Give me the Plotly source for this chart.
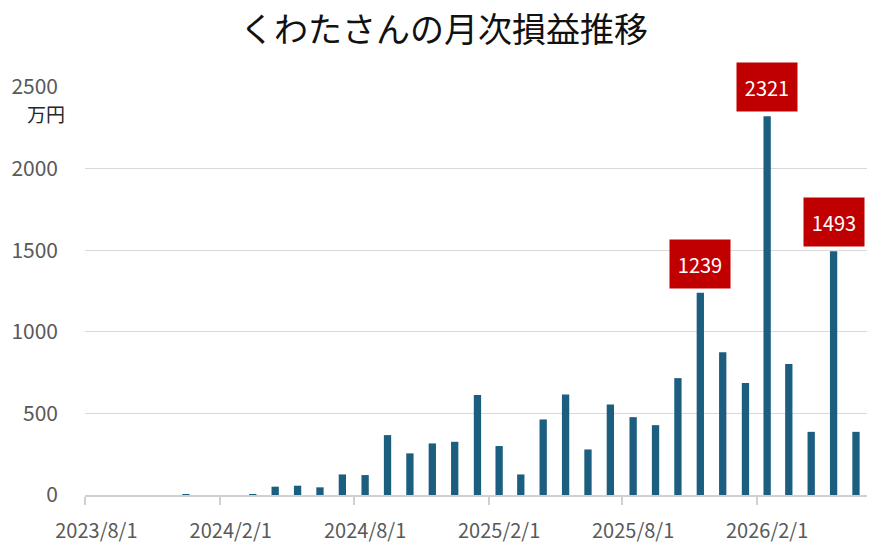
import pandas as pd
import plotly.graph_objects as go

months = pd.date_range("2023-08-01", "2026-06-01", freq="MS")
values = [0, 0, 0, 0, 5, 0, 0, 5, 51, 57, 47, 126, 122, 367, 255, 316, 326,
          612, 300, 126, 463, 616, 279, 555, 477, 428, 716, 1239, 875, 687,
          2321, 803, 387, 1493, 387]
highlight_threshold = 1000
title_text = "くわたさんの月次損益推移"
unit_text = "万円"
y_ticks = [0, 500, 1000, 1500, 2000, 2500]

bar_color = "#1B5E7F"
label_bg = "#C00000"
font_family = "Noto Sans CJK JP"

mid = [m + (m + pd.offsets.MonthBegin(1) - m) / 2 for m in months]
label_months = months[::6]
label_pos = [m + (m + pd.offsets.MonthBegin(1) - m) / 2 for m in label_months]
label_text = [f"{m.year}/{m.month}/{m.day}" for m in label_months]

fig = go.Figure()
fig.add_trace(go.Bar(
    x=months, y=values,
    xperiod="M1", xperiodalignment="middle",
    width=8.6e8,
    marker=dict(color=bar_color, line=dict(width=0)),
    hoverinfo="x+y",
))

for m, v in zip(mid, values):
    if v >= highlight_threshold:
        fig.add_annotation(
            x=m, y=v, xref="x", yref="y",
            text=str(v), showarrow=False,
            yanchor="bottom", yshift=4,
            width=58, height=46,
            bgcolor=label_bg,
            font=dict(family=font_family, size=20, color="white"),
        )

fig.add_annotation(
    x=-0.0234, y=0.936, xref="paper", yref="paper",
    text=unit_text, showarrow=False, xanchor="right", yanchor="middle",
    font=dict(family=font_family, size=19, color="#262626"),
)

fig.update_layout(
    width=886, height=553,
    margin=dict(l=77, r=27, t=79, b=66),
    paper_bgcolor="white", plot_bgcolor="white",
    showlegend=False,
    title=dict(text=title_text, x=0.492, xanchor="center", y=0.960, yanchor="middle",
               xref="container", yref="container",
               font=dict(family=font_family, size=34, color="#111111")),
    font=dict(family=font_family),
)

fig.update_xaxes(
    type="date", automargin=False,
    range=[months[0], months[-1] + pd.offsets.MonthBegin(1)],
    tickmode="array", tickvals=label_pos, ticktext=label_text,
    ticks="", showgrid=False,
    showline=True, linecolor="#d0d0d0", linewidth=1.5,
    tickfont=dict(family=font_family, size=20, color="#595959"),
    ticklabelstandoff=17,
    minor=dict(tickmode="array", tickvals=list(label_months), ticks="outside",
               ticklen=8, tickcolor="#d0d0d0", tickwidth=1.5, showgrid=False),
)
fig.update_yaxes(
    range=[0, 2500], automargin=False,
    tickmode="array", tickvals=y_ticks,
    showgrid=True, gridcolor="#d9d9d9", gridwidth=1.2,
    zeroline=False, showline=False,
    tickfont=dict(family=font_family, size=21, color="#595959"),
    ticklabelstandoff=26,
)

fig.write_html("out.html")
